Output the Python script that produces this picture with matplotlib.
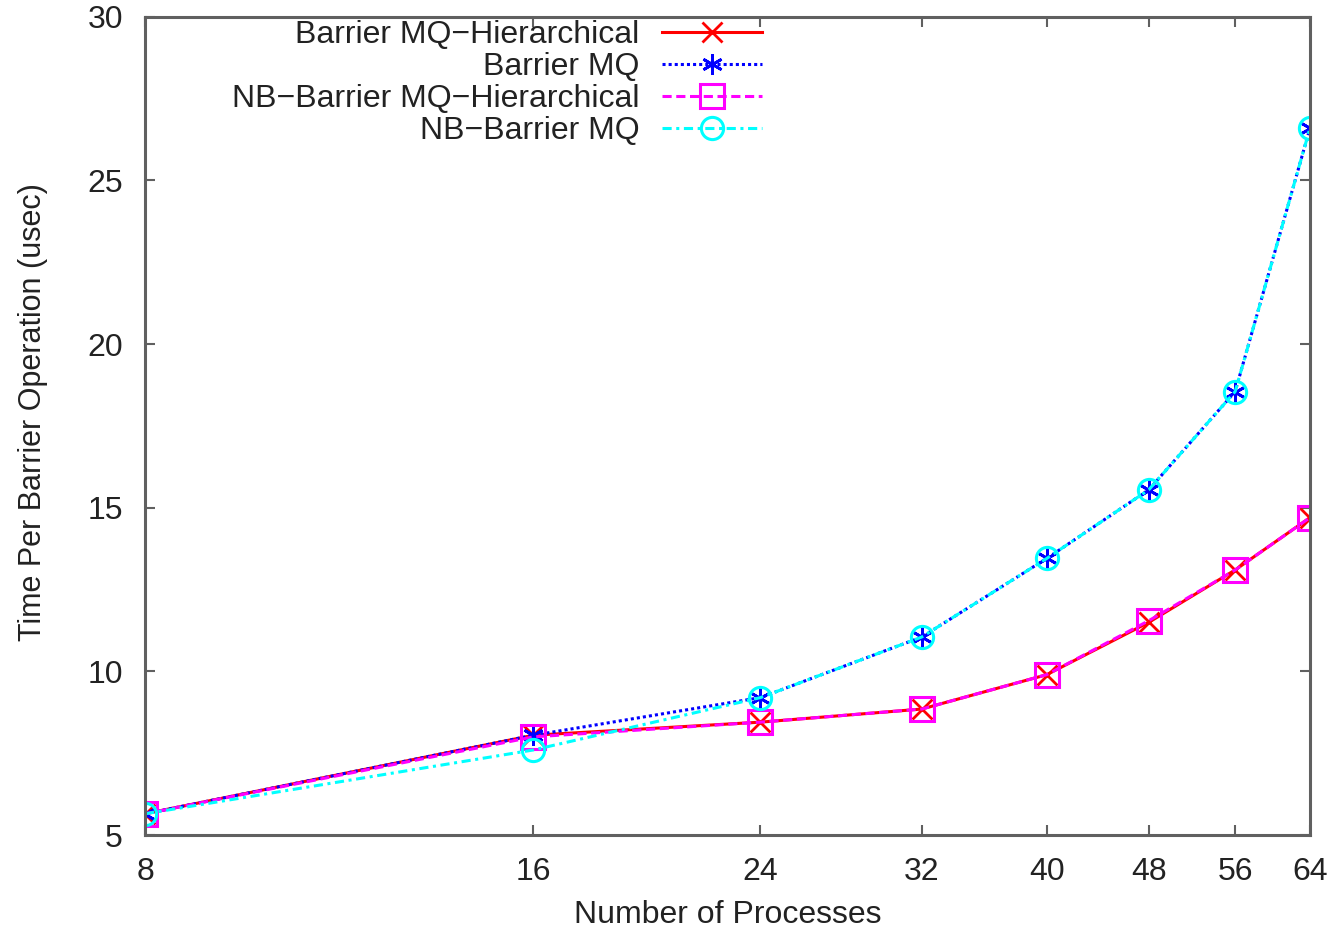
import matplotlib
matplotlib.use("Agg")
import matplotlib.pyplot as plt
from matplotlib.ticker import FixedLocator, NullLocator

plt.rcParams['font.family'] = ['Liberation Sans', 'DejaVu Sans']

processes = [8, 16, 24, 32, 40, 48, 56, 64]
barrier_mq_hier = [5.65, 8.05, 8.45, 8.85, 9.9, 11.5, 13.1, 14.7]
barrier_mq = [5.65, 8.05, 9.2, 11.05, 13.45, 15.55, 18.55, 26.6]
nb_barrier_mq_hier = [5.65, 8.0, 8.45, 8.85, 9.9, 11.55, 13.1, 14.7]
nb_barrier_mq = [5.65, 7.6, 9.2, 11.05, 13.45, 15.55, 18.55, 26.6]
y_ticks = [5, 10, 15, 20, 25, 30]

fig = plt.figure(figsize=(13.34, 9.32), dpi=100)
ax = fig.add_axes([0.1087, 0.104, 0.982 - 0.1087, 0.982 - 0.104])

ax.plot(processes, barrier_mq_hier, color='#ff0000', lw=2.2, ls='-',
        marker='x', ms=15, mew=2.0, label='Barrier MQ\u2212Hierarchical')
ax.plot(processes, barrier_mq, color='#0000ff', lw=2.2, ls=(0, (1, 1)),
        marker=(6, 2, 0), ms=15, mew=2.0, label='Barrier MQ')
ax.plot(processes, nb_barrier_mq_hier, color='#ff00ff', lw=2.2, ls=(0, (3, 1.5)),
        marker='s', ms=17, mew=2.2, mfc='none', label='NB\u2212Barrier MQ\u2212Hierarchical')
ax.plot(processes, nb_barrier_mq, color='#00ffff', lw=2.2, ls=(0, (3, 1.5, 1, 1.5)),
        marker='o', ms=16, mew=2.2, mfc='none', label='NB\u2212Barrier MQ')

ax.set_xscale('log', base=2)
ax.set_xlim(8, 64)
ax.set_ylim(5, 30)
ax.xaxis.set_major_locator(FixedLocator(processes))
ax.xaxis.set_minor_locator(NullLocator())
ax.set_xticklabels([str(p) for p in processes])
ax.set_yticks(y_ticks)
ax.set_yticklabels([str(v) for v in y_ticks])

spine_col = '#606060'
for s in ax.spines.values():
    s.set_color(spine_col)
    s.set_linewidth(2.2)
ax.tick_params(axis='both', which='major', direction='in', length=7, width=1.5,
               color=spine_col, labelsize=23, labelcolor='#222222',
               top=True, right=True, pad=16)

ax.set_xlabel('Number of Processes', fontsize=23, color='#222222', labelpad=9)
ax.set_ylabel('Time Per Barrier Operation (usec)', fontsize=22, color='#222222')
ax.yaxis.set_label_coords(-0.083, 0.517)

leg = ax.legend(loc='upper right', bbox_to_anchor=(0.530, 0.996), frameon=False,
                markerfirst=False, fontsize=23, handlelength=3.15,
                handletextpad=0.7, labelspacing=0.06, borderpad=0.0,
                borderaxespad=0.0)
for t in leg.get_texts():
    t.set_color('#222222')

fig.savefig('out.png', dpi=100)
